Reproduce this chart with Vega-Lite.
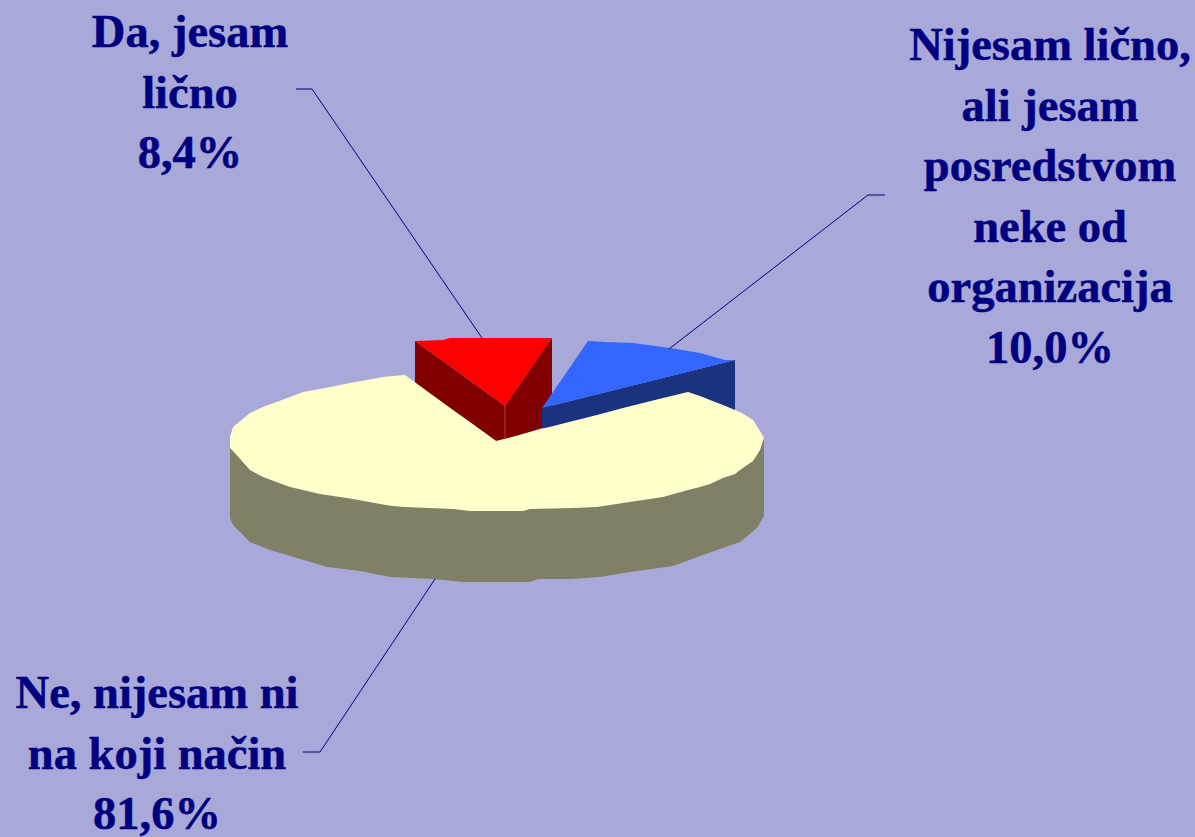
{
"$schema":"https://vega.github.io/schema/vega-lite/v6.json",
"autosize":"none",
"padding":0,"width":1195,"height":837,"background":"#A9A9D9",
"config":{"view":{"stroke":null}},
"datasets":{
"blueSide":[{"x":542,"top":408,"bottom":428},{"x":735,"top":360,"bottom":412}],
"redSide":[{"x":415,"top":341,"bottom":384},{"x":496,"top":399.5,"bottom":441},{"x":505,"top":406,"bottom":440},{"x":542,"top":352,"bottom":428},{"x":552,"top":338,"bottom":426}],
"redTop":[{"x":415,"top":341,"bottom":341},{"x":443,"top":340,"bottom":361.2},{"x":450,"top":338,"bottom":366.3},{"x":505,"top":338,"bottom":406},{"x":552,"top":338,"bottom":338}],
"blueTop":[{"x":542,"top":408,"bottom":408},{"x":588,"top":341,"bottom":396.6},{"x":605,"top":342,"bottom":392.3},{"x":633,"top":343,"bottom":385.4},{"x":670,"top":348,"bottom":376.2},{"x":700,"top":353,"bottom":368.7},{"x":725,"top":360,"bottom":362.5},{"x":735,"top":360,"bottom":360}],
"creamSide":[{"x":230,"top":445,"bottom":518},{"x":233,"top":445,"bottom":525},{"x":240,"top":450,"bottom":532},{"x":250,"top":455,"bottom":542},{"x":270,"top":465,"bottom":550},{"x":287,"top":475,"bottom":555},{"x":327,"top":485,"bottom":567},{"x":360,"top":490,"bottom":571},{"x":390,"top":495,"bottom":577},{"x":433,"top":500,"bottom":579},{"x":463,"top":500,"bottom":582},{"x":500,"top":500,"bottom":582},{"x":530,"top":500,"bottom":582},{"x":538,"top":500,"bottom":579},{"x":570,"top":500,"bottom":579},{"x":600,"top":495,"bottom":577},{"x":630,"top":490,"bottom":572},{"x":673,"top":485,"bottom":566},{"x":703,"top":475,"bottom":555},{"x":740,"top":460,"bottom":542},{"x":757,"top":445,"bottom":528},{"x":764,"top":438,"bottom":516}],
"creamTop":[{"x":230,"top":437,"bottom":448},{"x":233,"top":427,"bottom":451},{"x":250,"top":413,"bottom":470},{"x":263,"top":407,"bottom":477},{"x":290,"top":397,"bottom":487},{"x":303,"top":392,"bottom":490},{"x":320,"top":389,"bottom":494},{"x":350,"top":383,"bottom":498.5},{"x":383,"top":377,"bottom":504.5},{"x":393,"top":376,"bottom":506},{"x":405,"top":375,"bottom":507},{"x":453,"top":410,"bottom":509},{"x":470,"top":422,"bottom":511},{"x":496,"top":441,"bottom":511},{"x":500,"top":440,"bottom":511},{"x":523,"top":434,"bottom":511},{"x":530,"top":432,"bottom":509},{"x":573,"top":421,"bottom":508},{"x":597,"top":415,"bottom":507},{"x":623,"top":408,"bottom":503},{"x":663,"top":398,"bottom":497},{"x":688,"top":392,"bottom":490},{"x":700,"top":396,"bottom":487},{"x":710,"top":400,"bottom":484},{"x":723,"top":405,"bottom":478},{"x":735,"top":410,"bottom":474},{"x":740,"top":412,"bottom":470},{"x":750,"top":418,"bottom":463},{"x":753,"top":420,"bottom":461},{"x":760,"top":431,"bottom":450},{"x":764,"top":438,"bottom":438}],
"leaders":[
{"slice":"Da, jesam lično","step":1,"x":296,"top":89},{"slice":"Da, jesam lično","step":2,"x":312,"top":89},{"slice":"Da, jesam lično","step":3,"x":482,"top":338},
{"slice":"Nijesam lično","step":1,"x":885,"top":195},{"slice":"Nijesam lično","step":2,"x":868,"top":195},{"slice":"Nijesam lično","step":3,"x":669,"top":349},
{"slice":"Ne","step":1,"x":303,"top":752},{"slice":"Ne","step":2,"x":320,"top":752},{"slice":"Ne","step":3,"x":435,"top":579},
{"slice":"seam","step":1,"x":505,"top":406},{"slice":"seam","step":2,"x":505,"top":438}
],
"labels":[
{"label":"Da, jesam\nlično\n8,4%","share":8.4,"x":190,"top":47},
{"label":"Nijesam lično,\nali jesam\nposredstvom\nneke od\norganizacija\n10,0%","share":10.0,"x":1050,"top":60},
{"label":"Ne, nijesam ni\nna koji način\n81,6%","share":81.6,"x":157,"top":708}
]
},
"encoding":{
"x":{"field":"x","type":"quantitative","axis":null,"scale":{"domain":[0,1195],"nice":false,"zero":false}},
"y":{"field":"top","type":"quantitative","axis":null,"scale":{"domain":[0,837],"reverse":true,"nice":false,"zero":false}}
},
"layer":[
{"data":{"name":"redSide"},"mark":{"type":"area","color":"#800000"},"encoding":{"y2":{"field":"bottom"}}},
{"data":{"name":"redTop"},"mark":{"type":"area","color":"#FF0000"},"encoding":{"y2":{"field":"bottom"}}},
{"data":{"name":"blueSide"},"mark":{"type":"area","color":"#1A3380"},"encoding":{"y2":{"field":"bottom"}}},
{"data":{"name":"blueTop"},"mark":{"type":"area","color":"#3366FF"},"encoding":{"y2":{"field":"bottom"}}},
{"data":{"name":"creamSide"},"mark":{"type":"area","color":"#808066"},"encoding":{"y2":{"field":"bottom"}}},
{"data":{"name":"creamTop"},"mark":{"type":"area","color":"#FFFFCC"},"encoding":{"y2":{"field":"bottom"}}},
{"data":{"name":"leaders"},"transform":[{"filter":"datum.slice !== 'seam'"}],"mark":{"type":"line","color":"#000080","strokeWidth":1},"encoding":{"detail":{"field":"slice"},"order":{"field":"step","type":"quantitative"}}},
{"data":{"name":"leaders"},"transform":[{"filter":"datum.slice === 'seam'"}],"mark":{"type":"line","color":"#A84040","strokeWidth":1},"encoding":{"order":{"field":"step","type":"quantitative"}}},
{"data":{"name":"labels"},"mark":{"type":"text","font":"Liberation Serif","fontWeight":"bold","fontSize":46.5,"color":"#000080","stroke":"#000080","strokeWidth":0.5,"align":"center","baseline":"alphabetic","lineBreak":"\n","lineHeight":60.6},"encoding":{"text":{"field":"label"}}}
]
}
